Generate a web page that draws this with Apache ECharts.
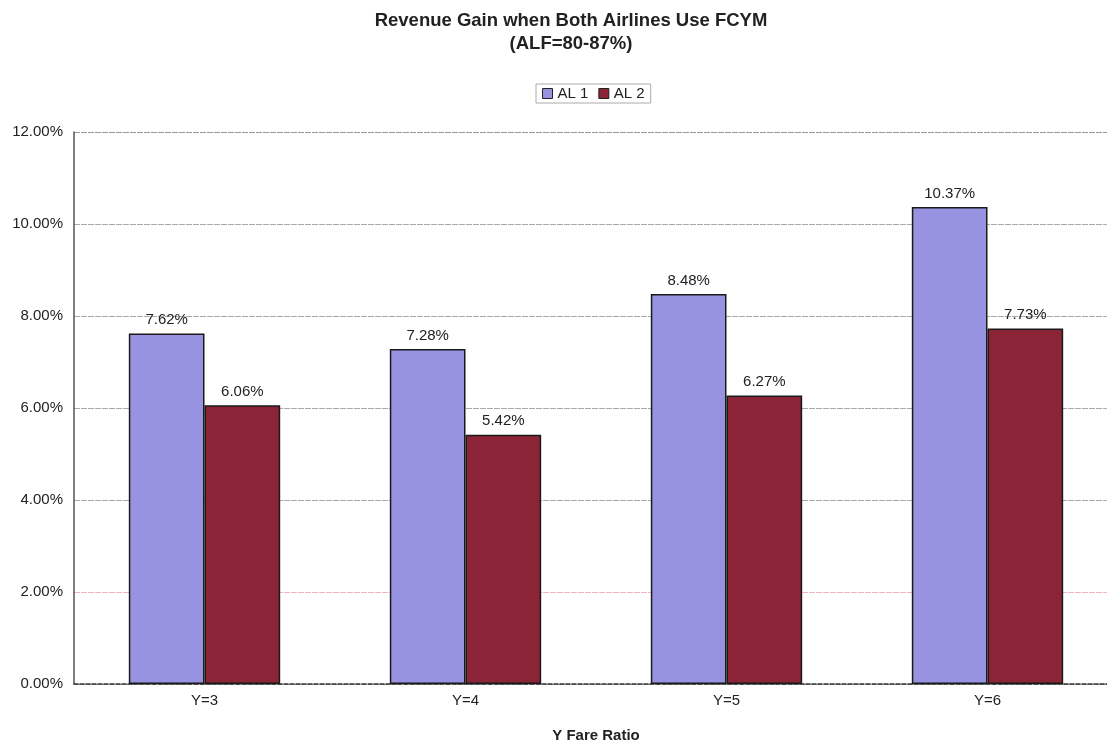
<!DOCTYPE html>
<html>
<head>
<meta charset="utf-8">
<script src="https://cdn.jsdelivr.net/npm/echarts@6/dist/echarts.min.js"></script>
<style>
  html, body { margin: 0; padding: 0; background: #ffffff; }
  #chart { width: 1107px; height: 742px; }
</style>
</head>
<body>
<div id="chart"></div>
<script>
// Fare-ratio categories and revenue gain (%) per airline
const categories = ['Y=3', 'Y=4', 'Y=5', 'Y=6'];
const al1 = [7.62, 7.28, 8.48, 10.37];
const al2 = [6.06, 5.42, 6.27, 7.73];
const seriesNames = ['AL 1', 'AL 2'];

const FONT = '"Liberation Sans", Arial, sans-serif';
const chart = echarts.init(document.getElementById('chart'));

const labelOpt = {
  show: true,
  position: 'top',
  distance: 6,
  color: '#222',
  fontFamily: FONT,
  fontSize: 15,
  formatter: p => p.value.toFixed(2) + '%'
};

chart.setOption({
  animation: false,
  backgroundColor: '#ffffff',
  title: {
    text: 'Revenue Gain when Both Airlines Use FCYM\n(ALF=80-87%)',
    left: 566,
    textAlign: 'center',
    top: 4,
    textStyle: { fontFamily: FONT, fontSize: 18.5, fontWeight: 'bold', color: '#222', lineHeight: 23 }
  },
  legend: {
    data: seriesNames,
    top: 84,
    left: 536,
    icon: 'rect',
    itemWidth: 10,
    itemHeight: 10,
    itemGap: 10,
    padding: [2, 6],
    borderColor: '#aaa',
    borderWidth: 1,
    textStyle: { fontFamily: FONT, fontSize: 15, color: '#222' },
    itemStyle: { borderColor: '#222', borderWidth: 1 }
  },
  grid: {
    left: 74, top: 132, width: 1044, height: 552,
    containLabel: false,
    outerBoundsMode: 'none'
  },
  xAxis: {
    type: 'category',
    data: categories,
    name: 'Y Fare Ratio',
    nameLocation: 'middle',
    nameGap: 44,
    nameTextStyle: { fontFamily: FONT, fontSize: 15, fontWeight: 'bold', color: '#222' },
    axisLine: { lineStyle: { color: '#333', width: 1.5, type: [4, 2] } },
    axisTick: { show: false },
    axisLabel: { fontFamily: FONT, fontSize: 15, color: '#222', margin: 9 }
  },
  yAxis: {
    type: 'value',
    min: 0,
    max: 12,
    interval: 2,
    axisLine: { show: true, lineStyle: { color: '#555', width: 1.5 } },
    axisTick: { show: false },
    axisLabel: {
      fontFamily: FONT, fontSize: 15, color: '#222', margin: 11,
      formatter: v => v.toFixed(2) + '%'
    },
    splitLine: {
      lineStyle: {
        color: ['#999', '#f0b4bc', '#aaa', '#aaa', '#aaa', '#aaa', '#999'],
        width: 1,
        type: [6, 1]
      }
    }
  },
  series: [
    {
      name: seriesNames[0],
      type: 'bar',
      data: al1,
      barGap: '0%',
      barCategoryGap: '42%',
      itemStyle: { color: '#9893e0', borderColor: '#1a1a1a', borderWidth: 1.5 },
      label: labelOpt
    },
    {
      name: seriesNames[1],
      type: 'bar',
      data: al2,
      itemStyle: { color: '#8c2438', borderColor: '#1a1a1a', borderWidth: 1.5 },
      label: labelOpt
    }
  ]
});
</script>
</body>
</html>
